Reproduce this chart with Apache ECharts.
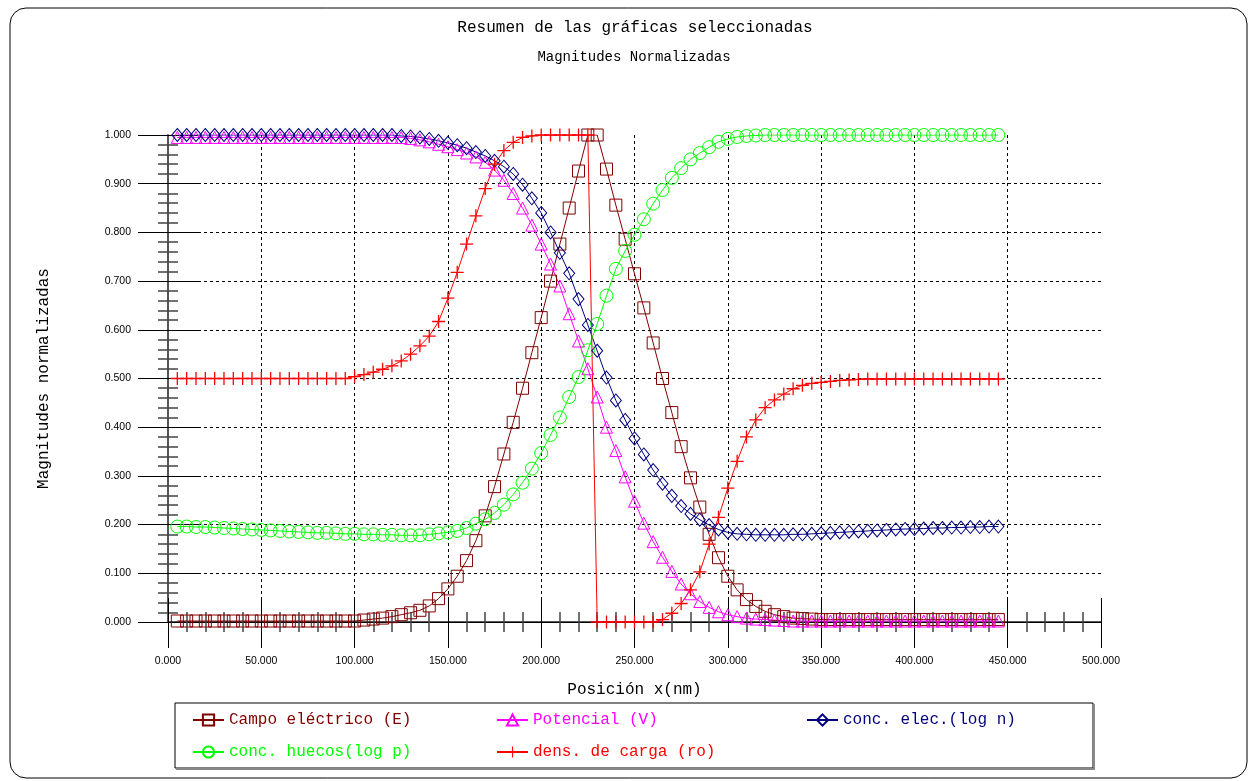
<!DOCTYPE html>
<html>

<head>
    <meta charset="utf-8" />
    <script src="https://cdn.jsdelivr.net/npm/echarts@6/dist/echarts.min.js"></script>
</head>

<body style="margin:0">
    <div id="main" style="width: 1257px;height:781px;"></div>
    <script type="text/javascript">
        // posiciones x (nm)
        const posX = [5, 10, 15, 20, 25, 30, 35, 40, 45, 50, 55, 60, 65, 70, 75, 80, 85, 90, 95, 100,
            105, 110, 115, 120, 125, 130, 135, 140, 145, 150, 155, 160, 165, 170, 175, 180, 185, 190, 195, 200,
            205, 210, 215, 220, 225, 230, 235, 240, 245, 250, 255, 260, 265, 270, 275, 280, 285, 290, 295, 300,
            305, 310, 315, 320, 325, 330, 335, 340, 345, 350, 355, 360, 365, 370, 375, 380, 385, 390, 395, 400,
            405, 410, 415, 420, 425, 430, 435, 440, 445];

        // Campo eléctrico (E)
        const campoE = [0.002, 0.002, 0.002, 0.002, 0.002, 0.002, 0.002, 0.002, 0.002, 0.002,
            0.002, 0.002, 0.002, 0.002, 0.002, 0.002, 0.002, 0.002, 0.002, 0.002,
            0.004, 0.006, 0.008, 0.011, 0.015, 0.019, 0.024, 0.033, 0.048, 0.068,
            0.094, 0.126, 0.167, 0.218, 0.278, 0.345, 0.41, 0.48, 0.553, 0.625,
            0.70, 0.776, 0.85, 0.926, 1.0, 1.0, 0.93, 0.856, 0.786, 0.715,
            0.645, 0.573, 0.50, 0.43, 0.36, 0.296, 0.236, 0.18, 0.132, 0.094,
            0.066, 0.046, 0.032, 0.022, 0.015, 0.011, 0.008, 0.007, 0.006,
            0.005, 0.005, 0.005, 0.005, 0.005, 0.005, 0.005, 0.005, 0.005, 0.005,
            0.005, 0.005, 0.005, 0.005, 0.005, 0.005, 0.005, 0.005, 0.005, 0.005];

        // Potencial (V)
        const potencial = [0.995, 0.995, 0.995, 0.995, 0.995, 0.995, 0.995, 0.995, 0.995, 0.995,
            0.995, 0.995, 0.995, 0.995, 0.995, 0.995, 0.995, 0.995, 0.995, 0.995,
            0.995, 0.995, 0.995, 0.995, 0.995,
            0.993, 0.99, 0.986, 0.981, 0.976, 0.97, 0.963, 0.955, 0.944, 0.928,
            0.907, 0.88, 0.85, 0.815, 0.776, 0.735, 0.69, 0.633, 0.577, 0.52,
            0.462, 0.40, 0.352, 0.298, 0.248, 0.203, 0.165, 0.133, 0.104, 0.078,
            0.058, 0.042, 0.03, 0.021, 0.015, 0.011, 0.008, 0.006, 0.005, 0.004, 0.003,
            0.002, 0.002, 0.002, 0.002, 0.002, 0.002, 0.002, 0.002, 0.002, 0.002,
            0.002, 0.002, 0.002, 0.002, 0.002, 0.002, 0.002, 0.002, 0.002, 0.002,
            0.002, 0.002, 0.002];

        // conc. elec. (log n)
        const concN = [1.0, 1.0, 1.0, 1.0, 1.0, 1.0, 1.0, 1.0, 1.0, 1.0,
            1.0, 1.0, 1.0, 1.0, 1.0, 1.0, 1.0, 1.0, 1.0, 1.0,
            1.0, 1.0, 1.0, 1.0,
            0.998, 0.997, 0.995, 0.992, 0.988, 0.984, 0.979, 0.973, 0.965, 0.957,
            0.947, 0.935, 0.92, 0.898, 0.87, 0.84, 0.80, 0.758, 0.716, 0.663,
            0.61, 0.557, 0.502, 0.455, 0.415, 0.377, 0.344, 0.312, 0.284, 0.259,
            0.238, 0.222, 0.21, 0.199, 0.19, 0.184,
            0.181, 0.18, 0.179, 0.179, 0.179, 0.179, 0.18, 0.18, 0.181, 0.182,
            0.183, 0.184, 0.185, 0.186, 0.187, 0.188, 0.189, 0.19, 0.191, 0.191,
            0.192, 0.193, 0.193, 0.194, 0.194, 0.195, 0.195, 0.196, 0.196];

        // conc. huecos (log p)
        const concP = [0.196, 0.196, 0.195, 0.195, 0.194, 0.193, 0.192, 0.191, 0.19, 0.189,
            0.188, 0.187, 0.186, 0.185, 0.184, 0.183, 0.183, 0.182, 0.181, 0.181,
            0.18, 0.18, 0.179, 0.179, 0.178, 0.178, 0.178, 0.18, 0.182, 0.184,
            0.187, 0.193, 0.202, 0.211, 0.224, 0.241, 0.262, 0.286, 0.315, 0.347,
            0.384, 0.42, 0.462, 0.503, 0.558, 0.612, 0.67, 0.725, 0.762, 0.795,
            0.827, 0.859, 0.887, 0.912, 0.932, 0.95, 0.963, 0.975, 0.986, 0.992,
            0.996, 0.998, 0.999,
            1.0, 1.0, 1.0, 1.0, 1.0, 1.0, 1.0, 1.0, 1.0, 1.0,
            1.0, 1.0, 1.0, 1.0, 1.0, 1.0, 1.0, 1.0, 1.0, 1.0,
            1.0, 1.0, 1.0, 1.0, 1.0, 1.0];

        // dens. de carga (ro)
        const densRo = [0.5, 0.5, 0.5, 0.5, 0.5, 0.5, 0.5, 0.5, 0.5, 0.5,
            0.5, 0.5, 0.5, 0.5, 0.5, 0.5, 0.5, 0.5, 0.5,
            0.504, 0.508, 0.513, 0.519, 0.526, 0.536, 0.55, 0.567, 0.587, 0.617,
            0.665, 0.718, 0.776, 0.834, 0.89, 0.94, 0.968, 0.985, 0.995, 0.998,
            1.0, 1.0, 1.0, 1.0, 1.0, 1.0,
            0.0, 0.0, 0.0, 0.0, 0.0, 0.0, 0.0,
            0.005, 0.018, 0.038, 0.066, 0.103, 0.16, 0.215, 0.275, 0.33, 0.38,
            0.415, 0.44, 0.456, 0.468, 0.479, 0.486, 0.49, 0.492, 0.494, 0.496,
            0.497, 0.498,
            0.499, 0.499, 0.499, 0.499, 0.499, 0.499, 0.499, 0.499, 0.499, 0.499,
            0.499, 0.499, 0.499, 0.499, 0.499];

        const nombres = ['Campo eléctrico (E)', 'Potencial (V)', 'conc. elec.(log n)', 'conc. huecos(log p)', 'dens. de carga (ro)'];
        const colores = ['#800000', '#ff00ff', '#000080', '#00ff00', '#ff0000'];

        const mono = 'Liberation Mono';
        const plus = 'path://M0,4.5H10V5.5H0Z M4.5,0H5.5V10H4.5Z';

        const pares = arr => posX.map((x, i) => [x, arr[i]]);

        function serie(idx, vals, symbol, size, filled) {
            return {
                name: nombres[idx],
                type: 'line',
                data: pares(vals),
                symbol: symbol,
                symbolSize: size,
                showAllSymbol: true,
                lineStyle: { color: colores[idx], width: 1 },
                itemStyle: filled ? { color: colores[idx], borderWidth: 0 } :
                    { color: 'transparent', borderColor: colores[idx], borderWidth: 1 },
                emphasis: { disabled: true }
            };
        }

        const ejeTxt = { fontFamily: mono, fontSize: 16, color: '#000' };
        const dash = { color: '#000', type: [3, 3], width: 1 };

        const myChart = echarts.init(document.getElementById('main'), null, { renderer: 'canvas' });

        const legendPos = [[192, 712], [496, 712], [806, 712], [192, 744], [496, 744]];

        const option = {
            backgroundColor: '#fff',
            animation: false,
            grid: { left: 168, top: 135, width: 933, height: 487 },
            graphic: [
                { type: 'rect', shape: { x: 10, y: 8, width: 1237, height: 770, r: 16 }, style: { fill: 'none', stroke: '#000', lineWidth: 1 } },
                { type: 'text', x: 635, y: 28, style: { text: 'Resumen de las gráficas seleccionadas', fontFamily: mono, fontSize: 16, fill: '#000', align: 'center', verticalAlign: 'middle' } },
                { type: 'text', x: 634, y: 57, style: { text: 'Magnitudes Normalizadas', fontFamily: mono, fontSize: 14, fill: '#000', align: 'center', verticalAlign: 'middle' } },
                { type: 'rect', shape: { x: 175, y: 703, width: 918, height: 65 }, style: { fill: 'none', stroke: '#000', lineWidth: 1 } },
                { type: 'polyline', shape: { points: [[1094, 704], [1094, 769], [176, 769]] }, style: { stroke: '#888', lineWidth: 2, fill: null } }
            ],
            legend: nombres.map((n, i) => ({
                left: legendPos[i][0],
                top: legendPos[i][1],
                padding: 0,
                itemWidth: 31,
                itemHeight: 14,
                selectedMode: false,
                data: [{ name: n, textStyle: { color: colores[i] } }],
                textStyle: { fontFamily: mono, fontSize: 16 }
            })),
            xAxis: [{
                type: 'value', min: 0, max: 500, interval: 50, position: 'bottom',
                axisLine: { show: true, onZero: false, lineStyle: { color: '#555', width: 2 } },
                axisTick: { show: true, length: 26, lineStyle: { color: '#000', width: 1 } },
                minorTick: { show: true, splitNumber: 5, length: 10, lineStyle: { color: '#444', width: 1.5 } },
                axisLabel: { margin: 34, fontSize: 10.5, color: '#000', fontFamily: 'Liberation Sans', formatter: v => v.toFixed(3) },
                splitLine: { show: true, showMinLine: false, showMaxLine: false, lineStyle: dash },
                name: 'Posición x(nm)', nameLocation: 'middle', nameGap: 60, nameTextStyle: ejeTxt
            }, {
                type: 'value', min: 0, max: 500, interval: 50, position: 'bottom',
                axisLine: { show: false },
                axisTick: { show: true, inside: true, length: 24, lineStyle: { color: '#000', width: 1 } },
                minorTick: { show: true, splitNumber: 5, length: 10, lineStyle: { color: '#444', width: 1.5 } },
                axisLabel: { show: false }, splitLine: { show: false }
            }, {
                type: 'value', min: 0, max: 500, position: 'top',
                axisLine: { show: true, lineStyle: { color: '#000', width: 1 } },
                axisTick: { show: false }, axisLabel: { show: false }, splitLine: { show: false }
            }],
            yAxis: [{
                type: 'value', min: 0, max: 1, interval: 0.1, position: 'left',
                axisLine: { show: true, onZero: false, lineStyle: { color: '#555', width: 2 } },
                axisTick: { show: true, length: 30, lineStyle: { color: '#000', width: 1 } },
                minorTick: { show: true, splitNumber: 5, length: 10, lineStyle: { color: '#444', width: 1.5 } },
                axisLabel: { margin: 37, fontSize: 10.5, color: '#000', fontFamily: 'Liberation Sans', formatter: v => v.toFixed(3) },
                splitLine: { show: true, showMinLine: false, showMaxLine: false, lineStyle: dash },
                name: 'Magnitudes normalizadas', nameLocation: 'middle', nameGap: 116, nameRotate: 90, nameTextStyle: ejeTxt
            }, {
                type: 'value', min: 0, max: 1, interval: 0.1, position: 'left',
                axisLine: { show: false },
                axisTick: { show: true, inside: true, length: 30, lineStyle: { color: '#000', width: 1 } },
                minorTick: { show: true, splitNumber: 5, length: 10, lineStyle: { color: '#444', width: 1.5 } },
                axisLabel: { show: false }, splitLine: { show: false }
            }],
            series: [
                serie(0, campoE, 'rect', 12, false),
                serie(1, potencial, 'triangle', 12, false),
                serie(2, concN, 'diamond', [11, 13], false),
                serie(3, concP, 'circle', 13, false),
                serie(4, densRo, plus, 13, true)
            ]
        };

        myChart.setOption(option);
        window.addEventListener('resize', myChart.resize);
    </script>
</body>

</html>
